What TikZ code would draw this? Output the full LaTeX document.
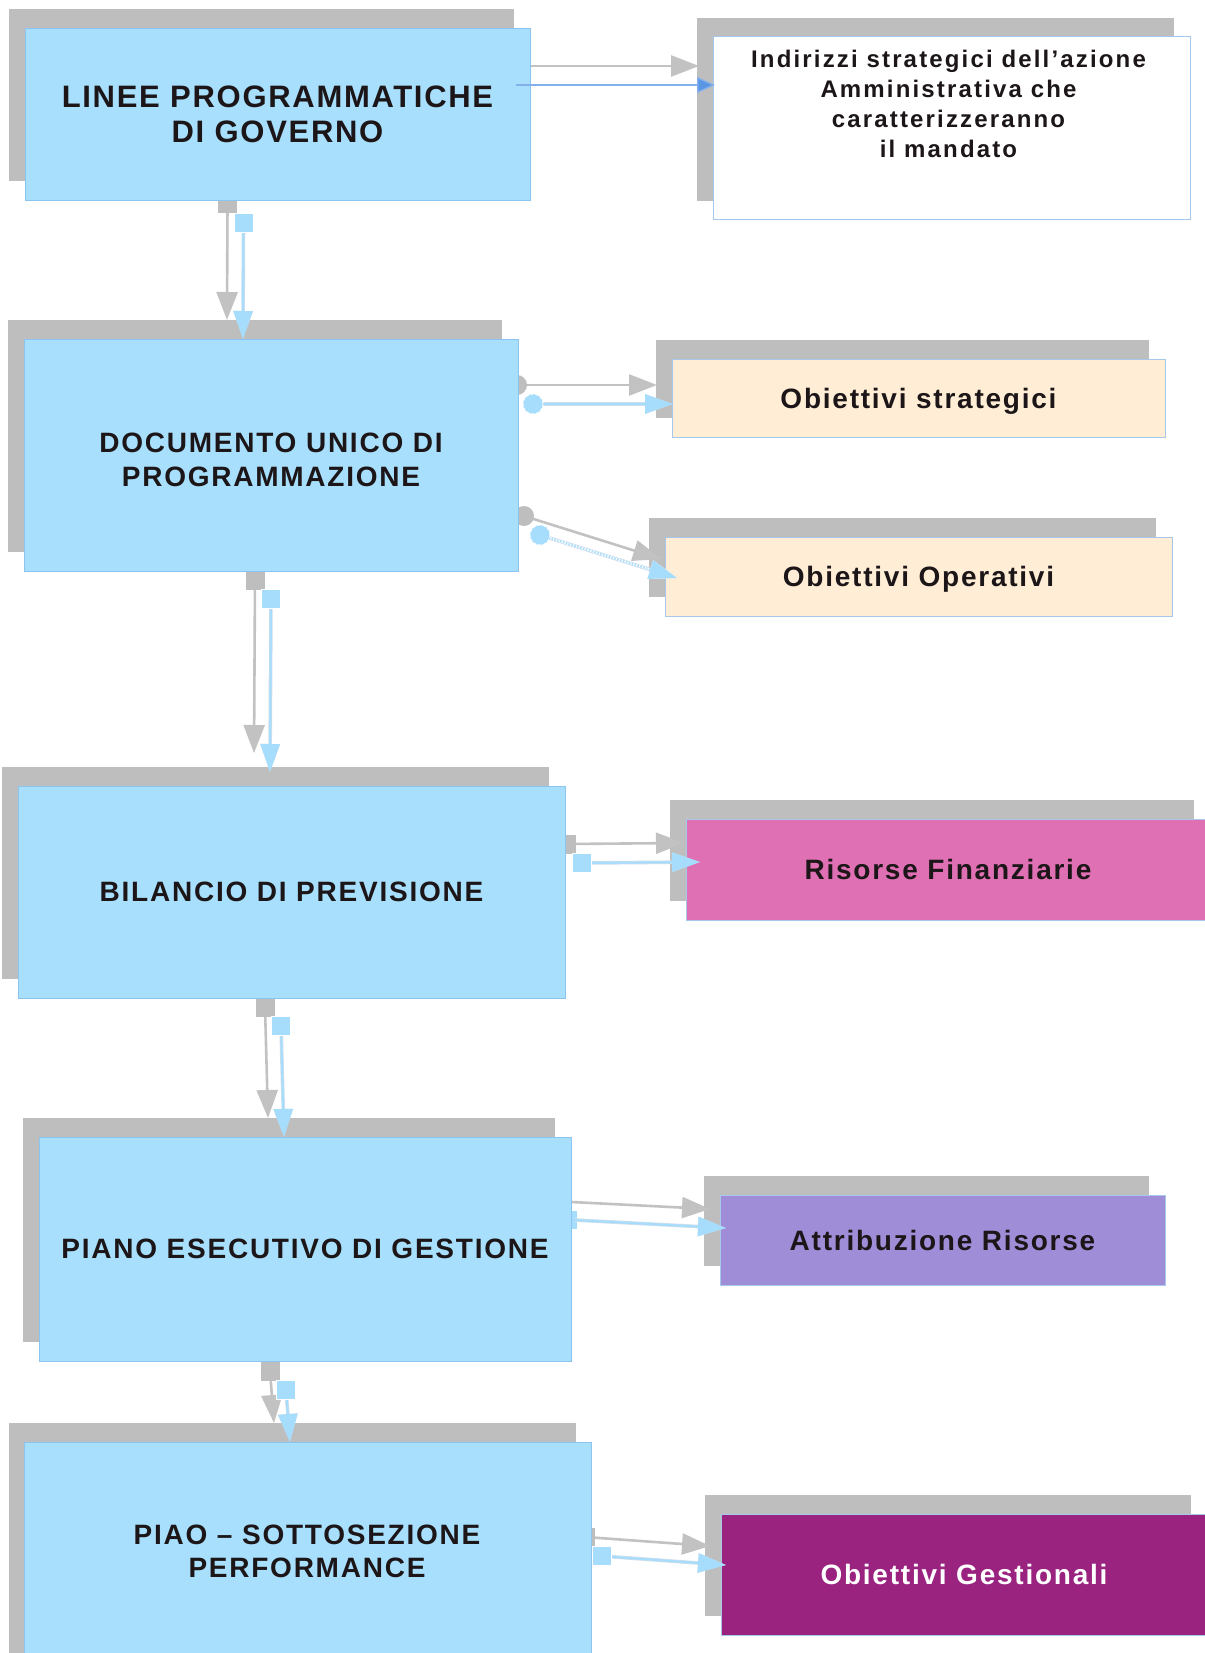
\documentclass[tikz,border=0pt]{standalone}
\usepackage{fontspec}
\setmainfont{Liberation Sans}
% letter-spaced faces used by the boxes
\newfontfamily\capsface{Liberation Sans}[LetterSpace=6.3]
\newfontfamily\titleface{Liberation Sans}[LetterSpace=5.5]
\newfontfamily\noteface{Liberation Sans}[LetterSpace=9]
\usetikzlibrary{arrows.meta,calc}
\pgfdeclarelayer{paper}
\pgfdeclarelayer{shade}
\pgfdeclarelayer{under}
\pgfsetlayers{paper,shade,under,main}

\definecolor{boxblue}{RGB}{168,223,252}
\definecolor{boxedge}{RGB}{140,196,240}
\definecolor{shadegray}{RGB}{190,190,190}
\definecolor{linkgray}{RGB}{194,194,194}
\definecolor{linkblue}{RGB}{166,220,252}
\definecolor{linkcase}{RGB}{205,222,236}
\definecolor{deepblue}{RGB}{90,150,228}
\definecolor{peach}{RGB}{255,237,214}
\definecolor{pinkbox}{RGB}{224,112,180}
\definecolor{lavender}{RGB}{159,141,216}
\definecolor{plum}{RGB}{154,35,127}
\definecolor{inkdark}{RGB}{28,22,24}
\definecolor{smalledge}{RGB}{165,200,235}

% start markers of the links and the grey copy of each link
\newcommand\graysquare[1]{\fill[shadegray] ([shift={(-25.5,-28.5)}]#1) rectangle ([shift={(-6.5,-9.5)}]#1);}
\newcommand\bluesquare[1]{\filldraw[fill=linkblue,draw=white,line width=0.8pt] ([shift={(-9.5,-9.5)}]#1) rectangle ([shift={(9.5,9.5)}]#1);}
\newcommand\graydisc[1]{\fill[shadegray] ([shift={(-16,-19)}]#1) circle[radius=10pt];}
\newcommand\bluedisc[1]{\filldraw[fill=linkblue,draw=white,line width=0.8pt,densely dashed] (#1) circle[radius=10pt];}
\newcommand\graycopy[2]{\draw[graylink] ([shift={(-16,-19)}]#1) -- ([shift={(-16,-19)}]#2);}

\begin{document}
\begin{tikzpicture}[x=1pt,y=-1pt,
  mainbox/.style={draw=boxedge,line width=0.8pt,fill=boxblue,inner sep=0pt,outer sep=0pt,align=center,text=inkdark},
  sidebox/.style={draw=smalledge,line width=1pt,inner sep=0pt,outer sep=0pt,align=center,text=inkdark},
  bigcaps/.style={font={\capsface\bfseries\fontsize{28pt}{34pt}\selectfont}},
  boxtext/.style={inner sep=0pt,outer sep=0pt,align=center,text=inkdark},
  graylink/.style={draw=linkgray,line width=2.6pt,-{Triangle[length=28pt,width=21pt]}},
  bluelink/.style={draw=linkblue,line width=2pt,preaction={draw=linkcase,line width=3.6pt},-{Triangle[length=28pt,width=19pt]}},
  hatched/.style={dash pattern=on 1.5pt off 1.5pt,preaction={draw=white,line width=2pt}},
  darklink/.style={draw=deepblue!75!white,line width=1.3pt,-{Triangle[length=18pt,width=16pt,fill=deepblue]}}]
\useasboundingbox (0,0) rectangle (1204,1653);
\begin{pgfonlayer}{paper}
  \fill[white] (0,0) rectangle (1204,1653);
\end{pgfonlayer}

% ---- main column ----
\node[mainbox,minimum width=505pt,minimum height=172pt,
      font={\titleface\bfseries\fontsize{31pt}{35pt}\selectfont}] (b1) at (277.5,114)
  {LINEE PROGRAMMATICHE\\DI GOVERNO};
\node[mainbox,minimum width=494pt,minimum height=232pt] (b2) at (271,455) {};
\node[boxtext,bigcaps] (b2t) at ($(b2.center)+(0,5)$) {DOCUMENTO UNICO DI\\PROGRAMMAZIONE};
\node[mainbox,bigcaps,minimum width=547pt,minimum height=212pt] (b3) at (291.5,892)
  {BILANCIO DI PREVISIONE};
\node[mainbox,bigcaps,minimum width=532pt,minimum height=224pt] (b4) at (305,1249)
  {PIANO ESECUTIVO DI GESTIONE};
\node[mainbox,minimum width=567pt,minimum height=243pt] (b5) at (308,1563.5) {};
\node[boxtext,font={\capsface\bfseries\fontsize{28pt}{32.5pt}\selectfont}] (b5t)
  at ($(b5.north)+(-1,109.5)$) {PIAO – SOTTOSEZIONE\\PERFORMANCE};

% ---- side boxes ----
\node[sidebox,fill=white,minimum width=477pt,minimum height=183pt] (r1) at (951.5,128.5) {};
\node[boxtext,anchor=north,font={\noteface\bfseries\fontsize{24pt}{30pt}\selectfont}] (r1t)
  at ($(r1.north)+(-3,13)$)
  {Indirizzi strategici dell’azione\\Amministrativa che\\caratterizzeranno\\il mandato};
\node[sidebox,bigcaps,fill=peach,text depth=0pt,minimum width=493pt,minimum height=78pt] (s1)
  at (918.5,398) {Obiettivi strategici};
\node[sidebox,bigcaps,fill=peach,text depth=0pt,minimum width=507pt,minimum height=79pt] (s2)
  at (918.5,576.5) {Obiettivi Operativi};
\node[sidebox,bigcaps,fill=pinkbox,minimum width=524pt,minimum height=101pt] (s3)
  at (948,869.5) {Risorse Finanziarie};
\node[sidebox,bigcaps,fill=lavender,minimum width=445pt,minimum height=90pt] (s4)
  at (942.5,1240) {Attribuzione Risorse};
\node[sidebox,bigcaps,fill=plum,text=white,minimum width=486pt,minimum height=121pt] (s5)
  at (964,1574.5) {Obiettivi Gestionali};

% ---- link end points ----
\coordinate (v1s) at ($(b1.south)+(-34,22.5)$);
\coordinate (v1e) at ($(b2.north)+(-28,0)$);
\coordinate (v2s) at ($(b2.south)+(0,28)$);
\coordinate (v2e) at ($(b3.north)+(-21.5,-14)$);
\coordinate (v3s) at ($(b3.south)+(-10.5,28)$);
\coordinate (v3e) at ($(b4.north)+(-21,0)$);
\coordinate (v4s) at ($(b4.south)+(-19,29)$);
\coordinate (v4e) at ($(b5.north)+(-18,0)$);
\coordinate (h1s) at ($(b1.east)+(-14,-29)$);
\coordinate (h1e) at ($(r1.west)+(2,-43.5)$);
\coordinate (h2s) at ($(b2.east)+(15,-51)$);
\coordinate (h2e) at ($(s1.west)+(1,6)$);
\coordinate (h3s) at ($(b2.east)+(22,80)$);
\coordinate (h3e) at ($(s2.west)+(12,1.5)$);
\coordinate (h4s) at ($(b3.east)+(17,-29)$);
\coordinate (h4e) at ($(s3.west)+(14,-7.5)$);
\coordinate (h5s) at ($(b4.east)+(-3,-29)$);
\coordinate (h5e) at ($(s4.west)+(6,-12)$);
\coordinate (h6s) at ($(b5.east)+(10,-7.5)$);
\coordinate (h6e) at ($(s5.west)+(5,-9.5)$);

% ---- grey shadows of boxes and links ----
\begin{pgfonlayer}{shade}
  \foreach \n in {b1,b2,b3,b4,b5,r1,s1,s2,s3,s4,s5}
    \fill[shadegray] ($(\n.north west)+(-16,-19)$) rectangle ($(\n.south east)+(-16,-19)$);
  \graycopy{v1s}{v1e} \graysquare{v1s}
  \graycopy{v2s}{v2e} \graysquare{v2s}
  \graycopy{v3s}{v3e} \graysquare{v3s}
  \graycopy{v4s}{v4e} \graysquare{v4s}
  \graycopy{h1s}{h1e}
  \graycopy{h2s}{h2e} \graydisc{h2s}
  \graycopy{h3s}{h3e} \graydisc{h3s}
  \graycopy{h4s}{h4e} \graysquare{h4s}
  \graycopy{h5s}{h5e} \graysquare{h5s}
  \graycopy{h6s}{h6e} \graysquare{h6s}
\end{pgfonlayer}
\begin{pgfonlayer}{under}
  \bluesquare{h5s}
\end{pgfonlayer}

% ---- links ----
\draw[bluelink] (v1s) -- (v1e); \bluesquare{v1s}
\draw[bluelink] (v2s) -- (v2e); \bluesquare{v2s}
\draw[bluelink] (v3s) -- (v3e); \bluesquare{v3s}
\draw[bluelink] (v4s) -- (v4e); \bluesquare{v4s}
\draw[darklink] (h1s) -- (h1e);
\draw[bluelink] (h2s) -- (h2e); \bluedisc{h2s}
\draw[bluelink,hatched] (h3s) -- (h3e); \bluedisc{h3s}
\draw[bluelink] (h4s) -- (h4e); \bluesquare{h4s}
\draw[bluelink] ([xshift=3pt]b4.east |- h5s) -- (h5e);
\draw[bluelink] (h6s) -- (h6e); \bluesquare{h6s}
\end{tikzpicture}
\end{document}
